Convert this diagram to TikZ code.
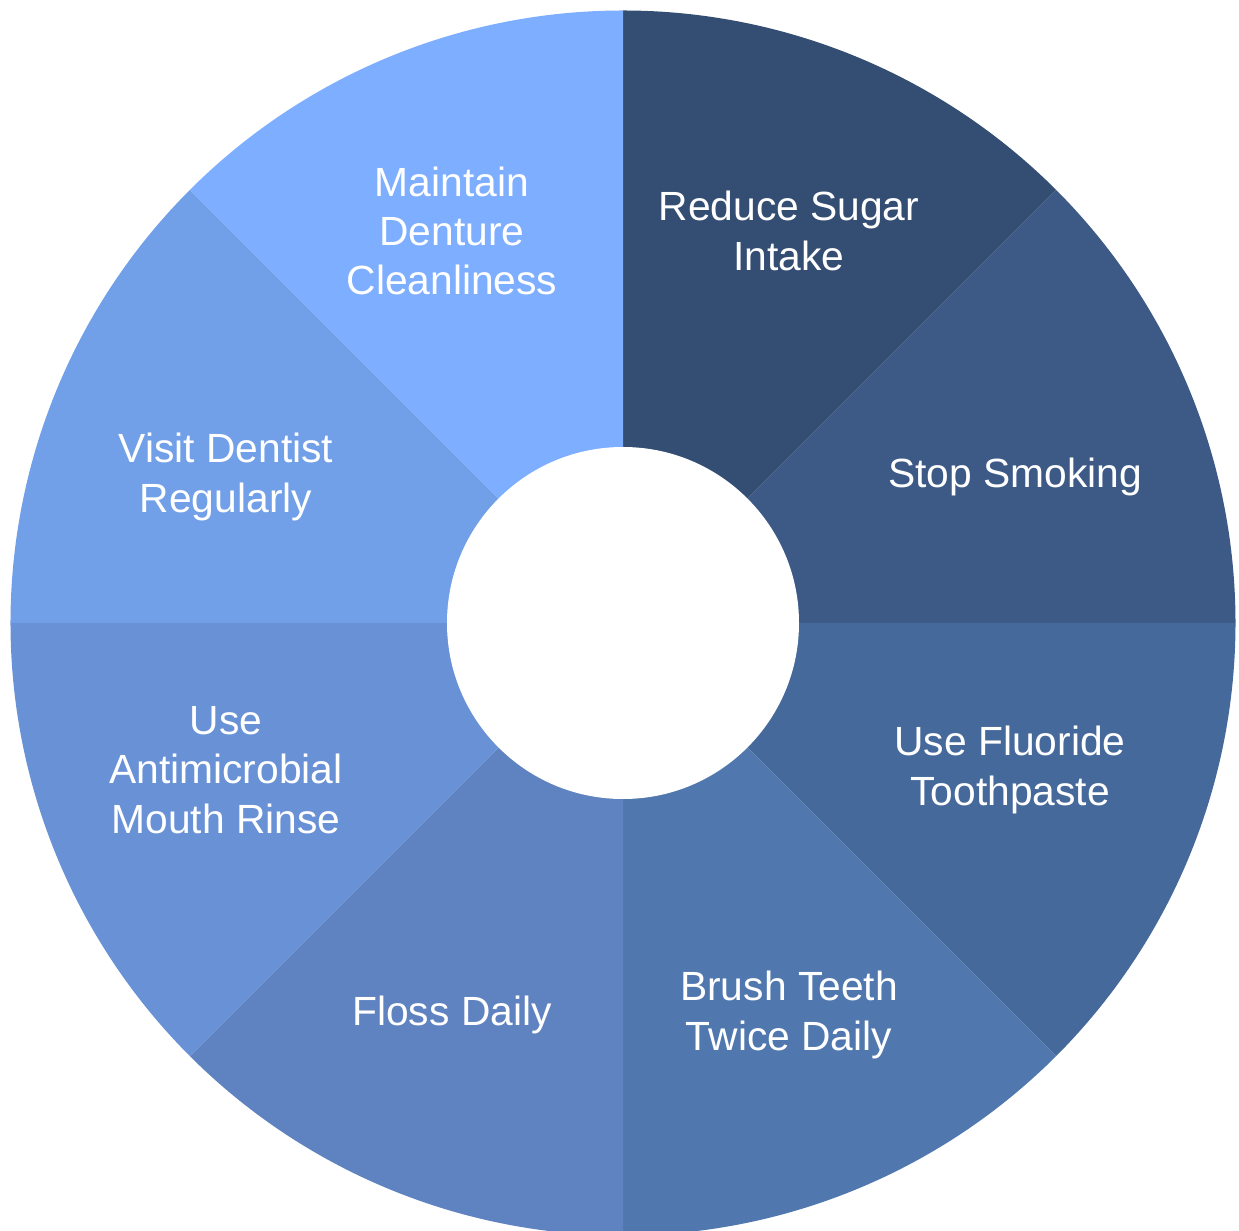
\documentclass[tikz,border=0pt]{standalone}
\usepackage{fontspec}
\setmainfont{Liberation Sans}
\definecolor{segA}{RGB}{51,77,115}
\definecolor{segB}{RGB}{61,90,135}
\definecolor{segC}{RGB}{70,105,156}
\definecolor{segD}{RGB}{80,120,175}
\definecolor{segE}{RGB}{95,130,192}
\definecolor{segF}{RGB}{104,145,214}
\definecolor{segG}{RGB}{114,160,232}
\definecolor{segH}{RGB}{126,174,255}
\tikzset{
  tiplabel/.style={text=white, align=center, font=\fontsize{11.6}{14}\selectfont},
}
\begin{document}
\begin{tikzpicture}
    \useasboundingbox (-6.23,-6.07) rectangle (6.16,6.23);

    % ring segments, clockwise from the top
    \foreach \a/\col in {90/segA, 45/segB, 0/segC, -45/segD, -90/segE, -135/segF, -180/segG, -225/segH}
        \fill[\col] (0,0) -- (\a:6.125) arc[start angle=\a, end angle=\a-45, radius=6.125] -- cycle;

    \fill[white] (0,0) circle[radius=1.76];

    % labels
    \node[tiplabel] (sugar)    at (1.66,3.92)   {Reduce Sugar\\Intake};
    \node[tiplabel] (smoking)  at (3.92,1.46)   {Stop Smoking};
    \node[tiplabel] (fluoride) at (3.87,-1.47)  {Use Fluoride\\Toothpaste};
    \node[tiplabel] (brush)    at (1.66,-3.92)  {Brush Teeth\\Twice Daily};
    \node[tiplabel] (floss)    at (-1.71,-3.92) {Floss Daily};
    \node[tiplabel] (rinse)    at (-3.97,-1.47) {Use\\Antimicrobial\\Mouth Rinse};
    \node[tiplabel] (dentist)  at (-3.97,1.46)  {Visit Dentist\\Regularly};
    \node[tiplabel] (denture)  at (-1.71,3.92)  {Maintain\\Denture\\Cleanliness};
\end{tikzpicture}
\end{document}
